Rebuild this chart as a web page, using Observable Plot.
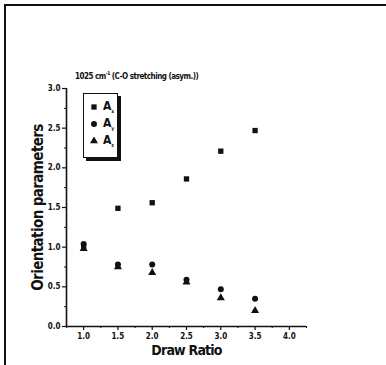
<!DOCTYPE html>
<html>
<head>
<meta charset="utf-8">
<script src="https://cdn.jsdelivr.net/npm/d3@7"></script>
<script src="https://cdn.jsdelivr.net/npm/@observablehq/plot@0.6"></script>
<style>
  html, body { margin: 0; padding: 0; background: #fff; overflow: hidden; }
  #wrap { position: relative; width: 386px; height: 365px; overflow: hidden; font-family: "Liberation Sans", Arial, sans-serif; }
  .ln { position: absolute; background: #111; }
  #title { position: absolute; left: 75px; top: 70px; font-family: "DejaVu Sans Condensed", "Liberation Sans", sans-serif; font-size: 8px; font-weight: bold; letter-spacing: -0.5px; color: #111; white-space: nowrap; }
  #title sup { font-size: 5px; }
  #legend { position: absolute; left: 83px; top: 93px; width: 33px; height: 63px; border: 1.5px solid #111; box-shadow: 3px 3px 0 #111; background: #fff; }
  .lg { position: absolute; left: 6px; height: 16px; display: flex; align-items: center; }
  .lg span { font-family: "DejaVu Sans Condensed", "Liberation Sans", sans-serif; font-size: 12px; font-weight: bold; margin-left: 5px; color: #111; }
  .lg sub { font-size: 5px; }
</style>
</head>
<body>
<div id="wrap">
  <div id="chart"></div>
  <div class="ln" style="left:4px; top:4px; width:382px; height:2px;"></div>
  <div class="ln" style="left:4px; top:4px; width:2px; height:361px;"></div>
  <div id="title">1025 cm<sup>-1</sup> (C-O stretching (asym.))</div>
  <div id="legend"></div>
</div>
<script>
const drawRatio = [1.0, 1.5, 2.0, 2.5, 3.0, 3.5];
const Ax = [1.01, 1.49, 1.56, 1.86, 2.21, 2.47];
const Ay = [1.04, 0.78, 0.78, 0.59, 0.47, 0.35];
const Az = [0.98, 0.75, 0.68, 0.56, 0.36, 0.20];
const seriesNames = ["x", "y", "z"];
const seriesSymbols = ["square", "circle", "triangle"];
const xDomain = [0.75, 4.25];
const yDomain = [0, 3];
const xMajor = [1.0, 1.5, 2.0, 2.5, 3.0, 3.5, 4.0];
const xMinor = [0.75, 1.25, 1.75, 2.25, 2.75, 3.25, 3.75, 4.25];
const yMajor = [0, 0.5, 1.0, 1.5, 2.0, 2.5, 3.0];
const yMinor = [0.25, 0.75, 1.25, 1.75, 2.25, 2.75];

const values = [Ax, Ay, Az];
const data = [];
values.forEach((vals, s) => vals.forEach((v, i) => data.push({x: drawRatio[i], y: v, s: seriesNames[s]})));

const fmt = d3.format(".1f");
const cond = "DejaVu Sans Condensed, Liberation Sans, sans-serif";
const plot = Plot.plot({
  width: 386, height: 365,
  marginLeft: 66, marginRight: 80, marginTop: 88, marginBottom: 39,
  style: { fontFamily: "Liberation Sans, Arial, sans-serif", background: "transparent", color: "#111" },
  x: { domain: xDomain },
  y: { domain: yDomain },
  symbol: { domain: seriesNames, range: seriesSymbols },
  marks: [
    Plot.axisX(xMajor, { tickSize: 4, tickPadding: 3, tickFormat: fmt, fontSize: 8, fontWeight: "bold", fontFamily: cond, strokeWidth: 1.2, label: null }),
    Plot.axisX(xMinor, { tickSize: 2, tickFormat: () => "", strokeWidth: 1, label: null }),
    Plot.axisY(yMajor, { tickSize: 4, tickPadding: 2, tickFormat: fmt, fontSize: 8, fontWeight: "bold", fontFamily: cond, strokeWidth: 1.2, label: null }),
    Plot.axisY(yMinor, { tickSize: 2, tickFormat: () => "", strokeWidth: 1, label: null }),
    Plot.ruleX([xDomain[0]], { y1: yDomain[0], y2: yDomain[1], stroke: "#111", strokeWidth: 1.6 }),
    Plot.ruleY([yDomain[0]], { x1: xDomain[0], x2: xDomain[1], stroke: "#111", strokeWidth: 1.6 }),
    Plot.dot(data, { x: "x", y: "y", symbol: "s", fill: "#111", r: 3 }),
    Plot.text(["Draw Ratio"], { frameAnchor: "bottom", lineAnchor: "middle", textAnchor: "middle", dy: 24, fontSize: 14, fontWeight: "bold", fontFamily: cond }),
    Plot.text(["Orientation parameters"], { frameAnchor: "left", textAnchor: "middle", lineAnchor: "middle", dx: -28, rotate: -90, fontSize: 15, fontWeight: "bold", fontFamily: cond })
  ]
});
document.getElementById("chart").appendChild(plot);
d3.select(plot).selectAll("text").filter(function() { return this.textContent === "Draw Ratio"; }).style("letter-spacing", "-0.8px");
d3.select(plot).selectAll("text").filter(function() { return this.textContent === "Orientation parameters"; }).style("letter-spacing", "-0.6px");

const lg = document.getElementById("legend");
seriesNames.forEach((n, i) => {
  const row = document.createElement("div");
  row.className = "lg";
  row.style.top = (5 + i * 17) + "px";
  const p = d3.symbol(d3["symbol" + seriesSymbols[i][0].toUpperCase() + seriesSymbols[i].slice(1)], 28)();
  row.innerHTML = `<svg width="8" height="8" viewBox="-4 -4 8 8"><path d="${p}" fill="#111"/></svg><span>A<sub>${n}</sub></span>`;
  lg.appendChild(row);
});
</script>
</body>
</html>
